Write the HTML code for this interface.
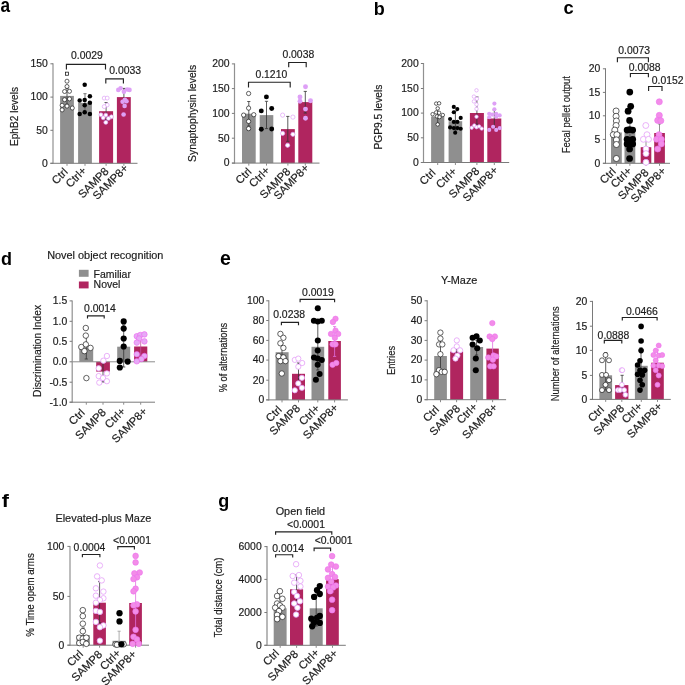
<!DOCTYPE html>
<html><head><meta charset="utf-8"><style>
html,body{margin:0;padding:0;background:#fff;}
svg{display:block;font-family:"Liberation Sans",sans-serif;will-change:transform;}
text{stroke:#1c1c1c;stroke-width:0.18px;}
</style></head><body>
<svg width="685" height="685" viewBox="0 0 685 685">
<rect width="685" height="685" fill="#fff"/>
<text x="0.6" y="11.6" font-size="19.5" font-weight="bold" fill="#000" style="stroke:none" textLength="9.6" lengthAdjust="spacingAndGlyphs">a</text>
<text x="373.7" y="14.7" font-size="18" font-weight="bold" fill="#000" style="stroke:none">b</text>
<text x="563.4" y="14.0" font-size="18.5" font-weight="bold" fill="#000" style="stroke:none" textLength="10.2" lengthAdjust="spacingAndGlyphs">c</text>
<text x="1.0" y="264.7" font-size="18" font-weight="bold" fill="#000" style="stroke:none">d</text>
<text x="220.1" y="264.9" font-size="19.5" font-weight="bold" fill="#000" style="stroke:none">e</text>
<text x="1.8" y="506.9" font-size="18.5" font-weight="bold" fill="#000" style="stroke:none" textLength="7.2" lengthAdjust="spacingAndGlyphs">f</text>
<text x="218.3" y="506.6" font-size="18" font-weight="bold" fill="#000" style="stroke:none">g</text>
<rect x="60.10" y="95.90" width="13.80" height="67.40" fill="#8f8f8f"/>
<rect x="78.10" y="102.90" width="13.80" height="60.40" fill="#8f8f8f"/>
<rect x="99.10" y="111.20" width="14.00" height="52.10" fill="#b0255f"/>
<rect x="116.90" y="97.10" width="13.90" height="66.20" fill="#b0255f"/>
<line x1="67.00" y1="88.30" x2="67.00" y2="104.30" stroke="#333" stroke-width="0.8"/>
<line x1="65.40" y1="88.30" x2="68.60" y2="88.30" stroke="#333" stroke-width="0.8"/>
<line x1="65.40" y1="104.30" x2="68.60" y2="104.30" stroke="#333" stroke-width="0.8"/>
<line x1="85.00" y1="93.70" x2="85.00" y2="112.00" stroke="#555" stroke-width="0.8"/>
<line x1="83.40" y1="93.70" x2="86.60" y2="93.70" stroke="#555" stroke-width="0.8"/>
<line x1="83.40" y1="112.00" x2="86.60" y2="112.00" stroke="#555" stroke-width="0.8"/>
<line x1="106.10" y1="102.50" x2="106.10" y2="120.00" stroke="#444" stroke-width="0.8"/>
<line x1="104.50" y1="102.50" x2="107.70" y2="102.50" stroke="#444" stroke-width="0.8"/>
<line x1="104.50" y1="120.00" x2="107.70" y2="120.00" stroke="#444" stroke-width="0.8"/>
<line x1="123.90" y1="88.40" x2="123.90" y2="105.80" stroke="#333" stroke-width="0.8"/>
<line x1="122.30" y1="88.40" x2="125.50" y2="88.40" stroke="#333" stroke-width="0.8"/>
<line x1="122.30" y1="105.80" x2="125.50" y2="105.80" stroke="#333" stroke-width="0.8"/>
<line x1="53.00" y1="63.30" x2="53.00" y2="163.80" stroke="#919191" stroke-width="1.2"/>
<line x1="50.40" y1="163.30" x2="53.00" y2="163.30" stroke="#7a7a7a" stroke-width="1.0"/>
<text x="47.8" y="166.6" font-size="10.4" text-anchor="end" font-weight="normal" fill="#1c1c1c">0</text>
<line x1="50.40" y1="130.30" x2="53.00" y2="130.30" stroke="#7a7a7a" stroke-width="1.0"/>
<text x="47.8" y="133.6" font-size="10.4" text-anchor="end" font-weight="normal" fill="#1c1c1c">50</text>
<line x1="50.40" y1="97.10" x2="53.00" y2="97.10" stroke="#7a7a7a" stroke-width="1.0"/>
<text x="47.8" y="100.4" font-size="10.4" text-anchor="end" font-weight="normal" fill="#1c1c1c">100</text>
<line x1="50.40" y1="63.80" x2="53.00" y2="63.80" stroke="#7a7a7a" stroke-width="1.0"/>
<text x="47.8" y="67.1" font-size="10.4" text-anchor="end" font-weight="normal" fill="#1c1c1c">150</text>
<line x1="50.40" y1="163.30" x2="137.50" y2="163.30" stroke="#7a7a7a" stroke-width="1.0"/>
<line x1="67.00" y1="163.30" x2="67.00" y2="165.80" stroke="#8a8a8a" stroke-width="1.0"/>
<line x1="85.00" y1="163.30" x2="85.00" y2="165.80" stroke="#8a8a8a" stroke-width="1.0"/>
<line x1="106.10" y1="163.30" x2="106.10" y2="165.80" stroke="#8a8a8a" stroke-width="1.0"/>
<line x1="123.90" y1="163.30" x2="123.90" y2="165.80" stroke="#8a8a8a" stroke-width="1.0"/>
<text x="68.5" y="172.6" font-size="11.2" text-anchor="end" fill="#1c1c1c" transform="rotate(-45 68.5 172.6)">Ctrl</text>
<text x="87.1" y="171.4" font-size="11.2" text-anchor="end" fill="#1c1c1c" transform="rotate(-45 87.1 171.4)">Ctrl+</text>
<text x="109.5" y="172.0" font-size="11.2" text-anchor="end" fill="#1c1c1c" transform="rotate(-45 109.5 172.0)">SAMP8</text>
<text x="128.8" y="168.9" font-size="11.2" text-anchor="end" fill="#1c1c1c" transform="rotate(-45 128.8 168.9)">SAMP8+</text>
<text x="18.1" y="116.5" font-size="10.3" text-anchor="middle" fill="#1c1c1c" transform="rotate(-90 18.1 116.5)" textLength="59" lengthAdjust="spacingAndGlyphs">EphB2 levels</text>
<rect x="65.45" y="72.15" width="3.1" height="3.1" fill="#fff" stroke="#111" stroke-width="0.75"/>
<circle cx="67.0" cy="81.2" r="2.03" fill="#fff" stroke="#111" stroke-width="0.65"/>
<circle cx="67.0" cy="86.5" r="2.03" fill="#fff" stroke="#111" stroke-width="0.65"/>
<circle cx="64.6" cy="91.5" r="2.03" fill="#fff" stroke="#111" stroke-width="0.65"/>
<circle cx="69.5" cy="91.3" r="2.03" fill="#fff" stroke="#111" stroke-width="0.65"/>
<circle cx="64.6" cy="99.7" r="2.03" fill="#fff" stroke="#111" stroke-width="0.65"/>
<circle cx="69.5" cy="98.9" r="2.03" fill="#fff" stroke="#111" stroke-width="0.65"/>
<circle cx="62.1" cy="105.3" r="2.03" fill="#fff" stroke="#111" stroke-width="0.65"/>
<circle cx="67.0" cy="106.1" r="2.03" fill="#fff" stroke="#111" stroke-width="0.65"/>
<circle cx="72.3" cy="108.0" r="2.03" fill="#fff" stroke="#111" stroke-width="0.65"/>
<circle cx="62.1" cy="109.9" r="2.03" fill="#fff" stroke="#111" stroke-width="0.65"/>
<circle cx="84.7" cy="84.7" r="2.24" fill="#000"/>
<circle cx="89.9" cy="96.3" r="2.24" fill="#000"/>
<circle cx="79.7" cy="100.5" r="2.24" fill="#000"/>
<circle cx="84.7" cy="100.1" r="2.24" fill="#000"/>
<circle cx="89.9" cy="102.7" r="2.24" fill="#000"/>
<circle cx="84.7" cy="105.3" r="2.24" fill="#000"/>
<circle cx="84.7" cy="112.2" r="2.24" fill="#000"/>
<circle cx="79.7" cy="114.0" r="2.24" fill="#000"/>
<circle cx="89.9" cy="114.0" r="2.24" fill="#000"/>
<circle cx="104.2" cy="98.1" r="1.95" fill="#fff" stroke="#dea0f6" stroke-width="0.7"/>
<circle cx="107.2" cy="98.1" r="1.95" fill="#fff" stroke="#dea0f6" stroke-width="0.7"/>
<circle cx="107.2" cy="105.0" r="1.95" fill="#fff" stroke="#dea0f6" stroke-width="0.7"/>
<circle cx="104.2" cy="106.6" r="1.95" fill="#fff" stroke="#dea0f6" stroke-width="0.7"/>
<circle cx="100.9" cy="114.8" r="1.95" fill="#fff" stroke="#dea0f6" stroke-width="0.7"/>
<circle cx="105.8" cy="115.1" r="1.95" fill="#fff" stroke="#dea0f6" stroke-width="0.7"/>
<circle cx="111.4" cy="116.8" r="1.95" fill="#fff" stroke="#dea0f6" stroke-width="0.7"/>
<circle cx="103.2" cy="117.8" r="1.95" fill="#fff" stroke="#dea0f6" stroke-width="0.7"/>
<circle cx="108.5" cy="118.4" r="1.95" fill="#fff" stroke="#dea0f6" stroke-width="0.7"/>
<circle cx="105.8" cy="122.4" r="1.95" fill="#fff" stroke="#dea0f6" stroke-width="0.7"/>
<circle cx="118.3" cy="89.9" r="2.30" fill="#dea0f6"/>
<circle cx="120.6" cy="88.2" r="2.30" fill="#dea0f6"/>
<circle cx="123.9" cy="91.8" r="2.30" fill="#dea0f6"/>
<circle cx="127.2" cy="89.5" r="2.30" fill="#dea0f6"/>
<circle cx="129.5" cy="89.9" r="2.30" fill="#dea0f6"/>
<circle cx="122.6" cy="101.7" r="2.30" fill="#dea0f6"/>
<circle cx="126.5" cy="101.3" r="2.30" fill="#dea0f6"/>
<circle cx="124.9" cy="99.7" r="2.30" fill="#dea0f6"/>
<circle cx="124.6" cy="105.9" r="2.30" fill="#dea0f6"/>
<circle cx="123.6" cy="114.5" r="2.30" fill="#dea0f6"/>
<polyline points="66.4,69.5 66.4,64.3 105.5,64.3 105.5,69.5" fill="none" stroke="#222" stroke-width="1.15"/>
<text x="86.9" y="59.2" font-size="10.4" text-anchor="middle" font-weight="normal" fill="#1c1c1c">0.0029</text>
<polyline points="105.8,83.5 105.8,78.9 123.4,78.9 123.4,83.5" fill="none" stroke="#222" stroke-width="1.15"/>
<text x="125.2" y="73.6" font-size="10.4" text-anchor="middle" font-weight="normal" fill="#1c1c1c">0.0033</text>
<rect x="242.00" y="113.70" width="13.70" height="49.40" fill="#8f8f8f"/>
<rect x="259.70" y="115.10" width="13.60" height="48.00" fill="#8f8f8f"/>
<rect x="281.00" y="129.10" width="13.80" height="34.00" fill="#b0255f"/>
<rect x="298.30" y="102.10" width="14.00" height="61.00" fill="#b0255f"/>
<line x1="248.80" y1="101.50" x2="248.80" y2="126.00" stroke="#333" stroke-width="0.8"/>
<line x1="247.20" y1="101.50" x2="250.40" y2="101.50" stroke="#333" stroke-width="0.8"/>
<line x1="247.20" y1="126.00" x2="250.40" y2="126.00" stroke="#333" stroke-width="0.8"/>
<line x1="266.50" y1="101.30" x2="266.50" y2="128.60" stroke="#333" stroke-width="0.8"/>
<line x1="264.90" y1="101.30" x2="268.10" y2="101.30" stroke="#333" stroke-width="0.8"/>
<line x1="264.90" y1="128.60" x2="268.10" y2="128.60" stroke="#333" stroke-width="0.8"/>
<line x1="287.80" y1="116.40" x2="287.80" y2="141.30" stroke="#333" stroke-width="0.8"/>
<line x1="286.20" y1="116.40" x2="289.40" y2="116.40" stroke="#333" stroke-width="0.8"/>
<line x1="286.20" y1="141.30" x2="289.40" y2="141.30" stroke="#333" stroke-width="0.8"/>
<line x1="305.30" y1="91.40" x2="305.30" y2="113.00" stroke="#333" stroke-width="0.8"/>
<line x1="303.70" y1="91.40" x2="306.90" y2="91.40" stroke="#333" stroke-width="0.8"/>
<line x1="303.70" y1="113.00" x2="306.90" y2="113.00" stroke="#333" stroke-width="0.8"/>
<line x1="234.50" y1="63.40" x2="234.50" y2="163.60" stroke="#919191" stroke-width="1.2"/>
<line x1="231.90" y1="163.10" x2="234.50" y2="163.10" stroke="#7a7a7a" stroke-width="1.0"/>
<text x="229.5" y="166.4" font-size="10.4" text-anchor="end" font-weight="normal" fill="#1c1c1c">0</text>
<line x1="231.90" y1="138.20" x2="234.50" y2="138.20" stroke="#7a7a7a" stroke-width="1.0"/>
<text x="229.5" y="141.5" font-size="10.4" text-anchor="end" font-weight="normal" fill="#1c1c1c">50</text>
<line x1="231.90" y1="113.40" x2="234.50" y2="113.40" stroke="#7a7a7a" stroke-width="1.0"/>
<text x="229.5" y="116.7" font-size="10.4" text-anchor="end" font-weight="normal" fill="#1c1c1c">100</text>
<line x1="231.90" y1="88.60" x2="234.50" y2="88.60" stroke="#7a7a7a" stroke-width="1.0"/>
<text x="229.5" y="91.9" font-size="10.4" text-anchor="end" font-weight="normal" fill="#1c1c1c">150</text>
<line x1="231.90" y1="63.90" x2="234.50" y2="63.90" stroke="#7a7a7a" stroke-width="1.0"/>
<text x="229.5" y="67.2" font-size="10.4" text-anchor="end" font-weight="normal" fill="#1c1c1c">200</text>
<line x1="231.90" y1="163.10" x2="319.50" y2="163.10" stroke="#7a7a7a" stroke-width="1.0"/>
<line x1="248.80" y1="163.10" x2="248.80" y2="165.60" stroke="#8a8a8a" stroke-width="1.0"/>
<line x1="266.50" y1="163.10" x2="266.50" y2="165.60" stroke="#8a8a8a" stroke-width="1.0"/>
<line x1="287.90" y1="163.10" x2="287.90" y2="165.60" stroke="#8a8a8a" stroke-width="1.0"/>
<line x1="305.30" y1="163.10" x2="305.30" y2="165.60" stroke="#8a8a8a" stroke-width="1.0"/>
<text x="252.4" y="172.4" font-size="11.2" text-anchor="end" fill="#1c1c1c" transform="rotate(-45 252.4 172.4)">Ctrl</text>
<text x="270.5" y="171.2" font-size="11.2" text-anchor="end" fill="#1c1c1c" transform="rotate(-45 270.5 171.2)">Ctrl+</text>
<text x="291.2" y="172.4" font-size="11.2" text-anchor="end" fill="#1c1c1c" transform="rotate(-45 291.2 172.4)">SAMP8</text>
<text x="309.6" y="168.7" font-size="11.2" text-anchor="end" fill="#1c1c1c" transform="rotate(-45 309.6 168.7)">SAMP8+</text>
<text x="195.6" y="113.4" font-size="10.3" text-anchor="middle" fill="#1c1c1c" transform="rotate(-90 195.6 113.4)" textLength="97" lengthAdjust="spacingAndGlyphs">Synaptophysin levels</text>
<circle cx="248.6" cy="93.5" r="2.14" fill="#fff" stroke="#111" stroke-width="0.65"/>
<circle cx="248.6" cy="108.1" r="2.14" fill="#fff" stroke="#111" stroke-width="0.65"/>
<circle cx="243.6" cy="115.1" r="2.14" fill="#fff" stroke="#111" stroke-width="0.65"/>
<circle cx="253.8" cy="114.7" r="2.14" fill="#fff" stroke="#111" stroke-width="0.65"/>
<circle cx="248.6" cy="121.4" r="2.14" fill="#fff" stroke="#111" stroke-width="0.65"/>
<circle cx="248.6" cy="128.6" r="2.14" fill="#fff" stroke="#111" stroke-width="0.65"/>
<circle cx="266.4" cy="96.9" r="2.46" fill="#000"/>
<circle cx="261.3" cy="110.9" r="2.46" fill="#000"/>
<circle cx="271.7" cy="108.5" r="2.46" fill="#000"/>
<circle cx="261.3" cy="129.2" r="2.46" fill="#000"/>
<circle cx="271.7" cy="129.0" r="2.46" fill="#000"/>
<circle cx="282.6" cy="115.1" r="2.11" fill="#fff" stroke="#dea0f6" stroke-width="0.7"/>
<circle cx="292.9" cy="117.1" r="2.11" fill="#fff" stroke="#dea0f6" stroke-width="0.7"/>
<circle cx="282.6" cy="133.4" r="2.11" fill="#fff" stroke="#dea0f6" stroke-width="0.7"/>
<circle cx="292.9" cy="134.3" r="2.11" fill="#fff" stroke="#dea0f6" stroke-width="0.7"/>
<circle cx="287.6" cy="145.3" r="2.11" fill="#fff" stroke="#dea0f6" stroke-width="0.7"/>
<circle cx="305.5" cy="86.8" r="2.46" fill="#dea0f6"/>
<circle cx="300.0" cy="96.9" r="2.46" fill="#dea0f6"/>
<circle cx="300.0" cy="101.2" r="2.46" fill="#dea0f6"/>
<circle cx="310.5" cy="100.8" r="2.46" fill="#dea0f6"/>
<circle cx="305.5" cy="109.1" r="2.46" fill="#dea0f6"/>
<circle cx="305.5" cy="118.3" r="2.46" fill="#dea0f6"/>
<polyline points="248.5,87.5 248.5,82.2 290.2,82.2 290.2,87.5" fill="none" stroke="#222" stroke-width="1.15"/>
<text x="271.3" y="77.8" font-size="10.4" text-anchor="middle" font-weight="normal" fill="#1c1c1c">0.1210</text>
<polyline points="288.7,67.3 288.7,62.5 306.2,62.5 306.2,67.3" fill="none" stroke="#222" stroke-width="1.15"/>
<text x="298.3" y="57.5" font-size="10.4" text-anchor="middle" font-weight="normal" fill="#1c1c1c">0.0038</text>
<rect x="431.10" y="116.40" width="13.20" height="46.10" fill="#8f8f8f"/>
<rect x="448.60" y="121.20" width="13.60" height="41.30" fill="#8f8f8f"/>
<rect x="469.90" y="113.00" width="14.00" height="49.50" fill="#b0255f"/>
<rect x="487.30" y="118.50" width="14.00" height="44.00" fill="#b0255f"/>
<line x1="437.70" y1="108.00" x2="437.70" y2="124.00" stroke="#333" stroke-width="0.8"/>
<line x1="436.10" y1="108.00" x2="439.30" y2="108.00" stroke="#333" stroke-width="0.8"/>
<line x1="436.10" y1="124.00" x2="439.30" y2="124.00" stroke="#333" stroke-width="0.8"/>
<line x1="455.40" y1="111.00" x2="455.40" y2="131.00" stroke="#333" stroke-width="0.8"/>
<line x1="453.80" y1="111.00" x2="457.00" y2="111.00" stroke="#333" stroke-width="0.8"/>
<line x1="453.80" y1="131.00" x2="457.00" y2="131.00" stroke="#333" stroke-width="0.8"/>
<line x1="476.90" y1="97.00" x2="476.90" y2="124.20" stroke="#333" stroke-width="0.8"/>
<line x1="475.30" y1="97.00" x2="478.50" y2="97.00" stroke="#333" stroke-width="0.8"/>
<line x1="475.30" y1="124.20" x2="478.50" y2="124.20" stroke="#333" stroke-width="0.8"/>
<line x1="494.30" y1="110.00" x2="494.30" y2="127.20" stroke="#333" stroke-width="0.8"/>
<line x1="492.70" y1="110.00" x2="495.90" y2="110.00" stroke="#333" stroke-width="0.8"/>
<line x1="492.70" y1="127.20" x2="495.90" y2="127.20" stroke="#333" stroke-width="0.8"/>
<line x1="423.50" y1="63.00" x2="423.50" y2="163.00" stroke="#919191" stroke-width="1.2"/>
<line x1="420.90" y1="162.50" x2="423.50" y2="162.50" stroke="#7a7a7a" stroke-width="1.0"/>
<text x="418.7" y="165.8" font-size="10.4" text-anchor="end" font-weight="normal" fill="#1c1c1c">0</text>
<line x1="420.90" y1="137.80" x2="423.50" y2="137.80" stroke="#7a7a7a" stroke-width="1.0"/>
<text x="418.7" y="141.1" font-size="10.4" text-anchor="end" font-weight="normal" fill="#1c1c1c">50</text>
<line x1="420.90" y1="113.10" x2="423.50" y2="113.10" stroke="#7a7a7a" stroke-width="1.0"/>
<text x="418.7" y="116.4" font-size="10.4" text-anchor="end" font-weight="normal" fill="#1c1c1c">100</text>
<line x1="420.90" y1="88.50" x2="423.50" y2="88.50" stroke="#7a7a7a" stroke-width="1.0"/>
<text x="418.7" y="91.8" font-size="10.4" text-anchor="end" font-weight="normal" fill="#1c1c1c">150</text>
<line x1="420.90" y1="63.50" x2="423.50" y2="63.50" stroke="#7a7a7a" stroke-width="1.0"/>
<text x="418.7" y="66.8" font-size="10.4" text-anchor="end" font-weight="normal" fill="#1c1c1c">200</text>
<line x1="420.90" y1="162.50" x2="509.20" y2="162.50" stroke="#7a7a7a" stroke-width="1.0"/>
<line x1="437.70" y1="162.50" x2="437.70" y2="165.00" stroke="#8a8a8a" stroke-width="1.0"/>
<line x1="455.40" y1="162.50" x2="455.40" y2="165.00" stroke="#8a8a8a" stroke-width="1.0"/>
<line x1="476.90" y1="162.50" x2="476.90" y2="165.00" stroke="#8a8a8a" stroke-width="1.0"/>
<line x1="494.30" y1="162.50" x2="494.30" y2="165.00" stroke="#8a8a8a" stroke-width="1.0"/>
<text x="436.4" y="173.4" font-size="11.2" text-anchor="end" fill="#1c1c1c" transform="rotate(-45 436.4 173.4)">Ctrl</text>
<text x="457.5" y="172.1" font-size="11.2" text-anchor="end" fill="#1c1c1c" transform="rotate(-45 457.5 172.1)">Ctrl+</text>
<text x="480.2" y="171.8" font-size="11.2" text-anchor="end" fill="#1c1c1c" transform="rotate(-45 480.2 171.8)">SAMP8</text>
<text x="498.6" y="170.9" font-size="11.2" text-anchor="end" fill="#1c1c1c" transform="rotate(-45 498.6 170.9)">SAMP8+</text>
<text x="382.5" y="117.1" font-size="10.3" text-anchor="middle" fill="#1c1c1c" transform="rotate(-90 382.5 117.1)" textLength="65" lengthAdjust="spacingAndGlyphs">PGP9.5 levels</text>
<circle cx="436.2" cy="103.6" r="1.75" fill="#fff" stroke="#111" stroke-width="0.65"/>
<circle cx="439.1" cy="103.3" r="1.75" fill="#fff" stroke="#111" stroke-width="0.65"/>
<circle cx="437.7" cy="108.4" r="1.75" fill="#fff" stroke="#111" stroke-width="0.65"/>
<circle cx="436.2" cy="112.4" r="1.75" fill="#fff" stroke="#111" stroke-width="0.65"/>
<circle cx="439.1" cy="112.8" r="1.75" fill="#fff" stroke="#111" stroke-width="0.65"/>
<circle cx="432.6" cy="114.2" r="1.75" fill="#fff" stroke="#111" stroke-width="0.65"/>
<circle cx="442.8" cy="115.0" r="1.75" fill="#fff" stroke="#111" stroke-width="0.65"/>
<circle cx="437.0" cy="116.4" r="1.75" fill="#fff" stroke="#111" stroke-width="0.65"/>
<circle cx="439.5" cy="117.1" r="1.75" fill="#fff" stroke="#111" stroke-width="0.65"/>
<circle cx="437.7" cy="124.4" r="1.75" fill="#fff" stroke="#111" stroke-width="0.65"/>
<circle cx="453.8" cy="106.9" r="2.07" fill="#000"/>
<circle cx="457.3" cy="109.1" r="2.07" fill="#000"/>
<circle cx="453.8" cy="112.2" r="2.07" fill="#000"/>
<circle cx="450.1" cy="119.0" r="2.07" fill="#000"/>
<circle cx="460.7" cy="117.9" r="2.07" fill="#000"/>
<circle cx="453.8" cy="121.9" r="2.07" fill="#000"/>
<circle cx="457.4" cy="121.9" r="2.07" fill="#000"/>
<circle cx="450.1" cy="127.4" r="2.07" fill="#000"/>
<circle cx="453.8" cy="128.1" r="2.07" fill="#000"/>
<circle cx="457.4" cy="128.1" r="2.07" fill="#000"/>
<circle cx="460.7" cy="128.8" r="2.07" fill="#000"/>
<circle cx="455.2" cy="132.8" r="2.07" fill="#000"/>
<circle cx="476.5" cy="90.3" r="1.72" fill="#fff" stroke="#dea0f6" stroke-width="0.7"/>
<circle cx="473.9" cy="96.6" r="1.72" fill="#fff" stroke="#dea0f6" stroke-width="0.7"/>
<circle cx="476.9" cy="98.8" r="1.72" fill="#fff" stroke="#dea0f6" stroke-width="0.7"/>
<circle cx="473.9" cy="101.4" r="1.72" fill="#fff" stroke="#dea0f6" stroke-width="0.7"/>
<circle cx="476.5" cy="104.5" r="1.72" fill="#fff" stroke="#dea0f6" stroke-width="0.7"/>
<circle cx="476.5" cy="108.9" r="1.72" fill="#fff" stroke="#dea0f6" stroke-width="0.7"/>
<circle cx="476.5" cy="116.7" r="1.72" fill="#fff" stroke="#dea0f6" stroke-width="0.7"/>
<circle cx="471.7" cy="127.7" r="1.72" fill="#fff" stroke="#dea0f6" stroke-width="0.7"/>
<circle cx="474.3" cy="125.5" r="1.72" fill="#fff" stroke="#dea0f6" stroke-width="0.7"/>
<circle cx="476.5" cy="127.2" r="1.72" fill="#fff" stroke="#dea0f6" stroke-width="0.7"/>
<circle cx="479.1" cy="126.4" r="1.72" fill="#fff" stroke="#dea0f6" stroke-width="0.7"/>
<circle cx="481.7" cy="128.6" r="1.72" fill="#fff" stroke="#dea0f6" stroke-width="0.7"/>
<circle cx="494.4" cy="103.6" r="2.07" fill="#dea0f6"/>
<circle cx="494.4" cy="109.3" r="2.07" fill="#dea0f6"/>
<circle cx="489.2" cy="113.7" r="2.07" fill="#dea0f6"/>
<circle cx="492.2" cy="114.6" r="2.07" fill="#dea0f6"/>
<circle cx="496.2" cy="113.7" r="2.07" fill="#dea0f6"/>
<circle cx="499.7" cy="115.4" r="2.07" fill="#dea0f6"/>
<circle cx="489.2" cy="117.2" r="2.07" fill="#dea0f6"/>
<circle cx="496.2" cy="116.7" r="2.07" fill="#dea0f6"/>
<circle cx="493.1" cy="126.8" r="2.07" fill="#dea0f6"/>
<circle cx="489.2" cy="129.9" r="2.07" fill="#dea0f6"/>
<circle cx="496.2" cy="129.9" r="2.07" fill="#dea0f6"/>
<circle cx="499.7" cy="128.1" r="2.07" fill="#dea0f6"/>
<rect x="611.00" y="132.50" width="10.80" height="30.80" fill="#8f8f8f"/>
<rect x="624.50" y="132.70" width="10.80" height="30.60" fill="#8f8f8f"/>
<rect x="640.70" y="147.20" width="10.60" height="16.10" fill="#b0255f"/>
<rect x="654.20" y="133.00" width="10.70" height="30.30" fill="#b0255f"/>
<line x1="616.40" y1="122.00" x2="616.40" y2="143.00" stroke="#777" stroke-width="0.8"/>
<line x1="614.80" y1="122.00" x2="618.00" y2="122.00" stroke="#777" stroke-width="0.8"/>
<line x1="614.80" y1="143.00" x2="618.00" y2="143.00" stroke="#777" stroke-width="0.8"/>
<line x1="629.90" y1="120.00" x2="629.90" y2="145.00" stroke="#555" stroke-width="0.8"/>
<line x1="628.30" y1="120.00" x2="631.50" y2="120.00" stroke="#555" stroke-width="0.8"/>
<line x1="628.30" y1="145.00" x2="631.50" y2="145.00" stroke="#555" stroke-width="0.8"/>
<line x1="646.00" y1="140.00" x2="646.00" y2="155.00" stroke="#777" stroke-width="0.8"/>
<line x1="644.40" y1="140.00" x2="647.60" y2="140.00" stroke="#777" stroke-width="0.8"/>
<line x1="644.40" y1="155.00" x2="647.60" y2="155.00" stroke="#777" stroke-width="0.8"/>
<line x1="659.50" y1="124.00" x2="659.50" y2="142.00" stroke="#777" stroke-width="0.8"/>
<line x1="657.90" y1="124.00" x2="661.10" y2="124.00" stroke="#777" stroke-width="0.8"/>
<line x1="657.90" y1="142.00" x2="661.10" y2="142.00" stroke="#777" stroke-width="0.8"/>
<line x1="605.50" y1="68.30" x2="605.50" y2="163.80" stroke="#7a7a7a" stroke-width="1.0"/>
<line x1="602.90" y1="163.30" x2="605.50" y2="163.30" stroke="#7a7a7a" stroke-width="1.0"/>
<text x="600.3" y="166.6" font-size="10.4" text-anchor="end" font-weight="normal" fill="#1c1c1c">0</text>
<line x1="602.90" y1="139.40" x2="605.50" y2="139.40" stroke="#7a7a7a" stroke-width="1.0"/>
<text x="600.3" y="142.7" font-size="10.4" text-anchor="end" font-weight="normal" fill="#1c1c1c">5</text>
<line x1="602.90" y1="115.80" x2="605.50" y2="115.80" stroke="#7a7a7a" stroke-width="1.0"/>
<text x="600.3" y="119.1" font-size="10.4" text-anchor="end" font-weight="normal" fill="#1c1c1c">10</text>
<line x1="602.90" y1="92.40" x2="605.50" y2="92.40" stroke="#7a7a7a" stroke-width="1.0"/>
<text x="600.3" y="95.7" font-size="10.4" text-anchor="end" font-weight="normal" fill="#1c1c1c">15</text>
<line x1="602.90" y1="68.80" x2="605.50" y2="68.80" stroke="#7a7a7a" stroke-width="1.0"/>
<text x="600.3" y="72.1" font-size="10.4" text-anchor="end" font-weight="normal" fill="#1c1c1c">20</text>
<line x1="602.90" y1="163.30" x2="670.00" y2="163.30" stroke="#7a7a7a" stroke-width="1.0"/>
<line x1="616.40" y1="163.30" x2="616.40" y2="165.80" stroke="#8a8a8a" stroke-width="1.0"/>
<line x1="629.90" y1="163.30" x2="629.90" y2="165.80" stroke="#8a8a8a" stroke-width="1.0"/>
<line x1="646.00" y1="163.30" x2="646.00" y2="165.80" stroke="#8a8a8a" stroke-width="1.0"/>
<line x1="659.50" y1="163.30" x2="659.50" y2="165.80" stroke="#8a8a8a" stroke-width="1.0"/>
<text x="616.6" y="172.3" font-size="11.2" text-anchor="end" fill="#1c1c1c" transform="rotate(-45 616.6 172.3)">Ctrl</text>
<text x="632.3" y="171.7" font-size="11.2" text-anchor="end" fill="#1c1c1c" transform="rotate(-45 632.3 171.7)">Ctrl+</text>
<text x="649.3" y="173.3" font-size="11.2" text-anchor="end" fill="#1c1c1c" transform="rotate(-45 649.3 173.3)">SAMP8</text>
<text x="666.6" y="171.7" font-size="11.2" text-anchor="end" fill="#1c1c1c" transform="rotate(-45 666.6 171.7)">SAMP8+</text>
<text x="570.0" y="114.65" font-size="10.3" text-anchor="middle" fill="#1c1c1c" transform="rotate(-90 570.0 114.65)" textLength="77" lengthAdjust="spacingAndGlyphs">Fecal pellet output</text>
<circle cx="616.1" cy="111.0" r="3.04" fill="#fff" stroke="#111" stroke-width="0.65"/>
<circle cx="616.1" cy="116.3" r="3.04" fill="#fff" stroke="#111" stroke-width="0.65"/>
<circle cx="616.4" cy="121.0" r="3.04" fill="#fff" stroke="#111" stroke-width="0.65"/>
<circle cx="616.1" cy="125.5" r="3.04" fill="#fff" stroke="#111" stroke-width="0.65"/>
<circle cx="614.8" cy="130.1" r="3.04" fill="#fff" stroke="#111" stroke-width="0.65"/>
<circle cx="613.3" cy="134.7" r="3.04" fill="#fff" stroke="#111" stroke-width="0.65"/>
<circle cx="616.9" cy="134.7" r="3.04" fill="#fff" stroke="#111" stroke-width="0.65"/>
<circle cx="616.4" cy="139.9" r="3.04" fill="#fff" stroke="#111" stroke-width="0.65"/>
<circle cx="616.4" cy="144.5" r="3.04" fill="#fff" stroke="#111" stroke-width="0.65"/>
<circle cx="616.4" cy="158.5" r="3.04" fill="#fff" stroke="#111" stroke-width="0.65"/>
<circle cx="629.8" cy="92.1" r="3.36" fill="#000"/>
<circle cx="630.7" cy="106.3" r="3.36" fill="#000"/>
<circle cx="628.1" cy="111.2" r="3.36" fill="#000"/>
<circle cx="629.6" cy="120.4" r="3.36" fill="#000"/>
<circle cx="627.1" cy="130.1" r="3.36" fill="#000"/>
<circle cx="629.6" cy="129.6" r="3.36" fill="#000"/>
<circle cx="632.7" cy="130.1" r="3.36" fill="#000"/>
<circle cx="627.1" cy="139.3" r="3.36" fill="#000"/>
<circle cx="632.7" cy="139.3" r="3.36" fill="#000"/>
<circle cx="629.6" cy="140.9" r="3.36" fill="#000"/>
<circle cx="627.1" cy="143.9" r="3.36" fill="#000"/>
<circle cx="632.7" cy="143.9" r="3.36" fill="#000"/>
<circle cx="629.6" cy="149.0" r="3.36" fill="#000"/>
<circle cx="629.6" cy="158.5" r="3.36" fill="#000"/>
<circle cx="645.8" cy="125.5" r="2.96" fill="#fff" stroke="#e4a0f8" stroke-width="0.8"/>
<circle cx="647.0" cy="134.7" r="2.96" fill="#fff" stroke="#e4a0f8" stroke-width="0.8"/>
<circle cx="643.4" cy="139.3" r="2.96" fill="#fff" stroke="#e4a0f8" stroke-width="0.8"/>
<circle cx="648.5" cy="139.3" r="2.96" fill="#fff" stroke="#e4a0f8" stroke-width="0.8"/>
<circle cx="646.0" cy="149.0" r="2.96" fill="#fff" stroke="#e4a0f8" stroke-width="0.8"/>
<circle cx="646.0" cy="153.6" r="2.96" fill="#fff" stroke="#e4a0f8" stroke-width="0.8"/>
<circle cx="646.0" cy="162.3" r="2.96" fill="#fff" stroke="#e4a0f8" stroke-width="0.8"/>
<circle cx="659.3" cy="101.8" r="3.06" fill="#f28de8" stroke="#ef6ff0" stroke-width="0.6"/>
<circle cx="659.3" cy="115.4" r="3.06" fill="#f28de8" stroke="#ef6ff0" stroke-width="0.6"/>
<circle cx="657.7" cy="120.4" r="3.06" fill="#f28de8" stroke="#ef6ff0" stroke-width="0.6"/>
<circle cx="660.8" cy="120.7" r="3.06" fill="#f28de8" stroke="#ef6ff0" stroke-width="0.6"/>
<circle cx="659.0" cy="134.7" r="3.06" fill="#f28de8" stroke="#ef6ff0" stroke-width="0.6"/>
<circle cx="656.7" cy="139.3" r="3.06" fill="#f28de8" stroke="#ef6ff0" stroke-width="0.6"/>
<circle cx="661.3" cy="139.3" r="3.06" fill="#f28de8" stroke="#ef6ff0" stroke-width="0.6"/>
<circle cx="661.3" cy="143.9" r="3.06" fill="#f28de8" stroke="#ef6ff0" stroke-width="0.6"/>
<circle cx="657.7" cy="149.0" r="3.06" fill="#f28de8" stroke="#ef6ff0" stroke-width="0.6"/>
<polyline points="617.4,62.3 617.4,57.7 648.4,57.7 648.4,62.3" fill="none" stroke="#222" stroke-width="1.15"/>
<text x="634.2" y="54.3" font-size="10.4" text-anchor="middle" font-weight="normal" fill="#1c1c1c">0.0073</text>
<polyline points="630.4,77.2 630.4,73.5 648.4,73.5 648.4,77.2" fill="none" stroke="#222" stroke-width="1.15"/>
<text x="644.7" y="71.3" font-size="10.4" text-anchor="middle" font-weight="normal" fill="#1c1c1c">0.0088</text>
<polyline points="648.6,90.9 648.6,86.5 662.0,86.5 662.0,90.9" fill="none" stroke="#222" stroke-width="1.15"/>
<text x="667.7" y="84.0" font-size="10.4" text-anchor="middle" font-weight="normal" fill="#1c1c1c">0.0152</text>
<text x="47.2" y="259.1" font-size="10.9" text-anchor="start" font-weight="normal" fill="#1c1c1c">Novel object recognition</text>
<rect x="78.90" y="269.80" width="9.70" height="7.00" fill="#8f8f8f"/>
<text x="93.6" y="278.0" font-size="10.5" text-anchor="start" font-weight="normal" fill="#1c1c1c">Familiar</text>
<rect x="78.90" y="281.50" width="9.70" height="6.90" fill="#b0255f"/>
<text x="93.6" y="287.7" font-size="10.5" text-anchor="start" font-weight="normal" fill="#1c1c1c">Novel</text>
<rect x="79.30" y="347.50" width="13.90" height="14.30" fill="#8f8f8f"/>
<rect x="96.20" y="361.80" width="13.70" height="9.80" fill="#b0255f"/>
<rect x="117.20" y="346.70" width="13.00" height="15.10" fill="#8f8f8f"/>
<rect x="134.10" y="346.50" width="13.20" height="15.30" fill="#b0255f"/>
<line x1="72.20" y1="361.80" x2="155.00" y2="361.80" stroke="#8c8c8c" stroke-width="1.0"/>
<line x1="86.30" y1="336.00" x2="86.30" y2="359.00" stroke="#333" stroke-width="0.8"/>
<line x1="84.70" y1="336.00" x2="87.90" y2="336.00" stroke="#333" stroke-width="0.8"/>
<line x1="84.70" y1="359.00" x2="87.90" y2="359.00" stroke="#333" stroke-width="0.8"/>
<line x1="103.00" y1="362.00" x2="103.00" y2="382.00" stroke="#333" stroke-width="0.8"/>
<line x1="101.40" y1="362.00" x2="104.60" y2="362.00" stroke="#333" stroke-width="0.8"/>
<line x1="101.40" y1="382.00" x2="104.60" y2="382.00" stroke="#333" stroke-width="0.8"/>
<line x1="123.70" y1="325.00" x2="123.70" y2="367.00" stroke="#333" stroke-width="0.8"/>
<line x1="122.10" y1="325.00" x2="125.30" y2="325.00" stroke="#333" stroke-width="0.8"/>
<line x1="122.10" y1="367.00" x2="125.30" y2="367.00" stroke="#333" stroke-width="0.8"/>
<line x1="140.70" y1="337.00" x2="140.70" y2="356.00" stroke="#c050a0" stroke-width="0.8"/>
<line x1="139.10" y1="337.00" x2="142.30" y2="337.00" stroke="#c050a0" stroke-width="0.8"/>
<line x1="139.10" y1="356.00" x2="142.30" y2="356.00" stroke="#c050a0" stroke-width="0.8"/>
<line x1="72.20" y1="300.40" x2="72.20" y2="402.70" stroke="#919191" stroke-width="1.2"/>
<line x1="69.60" y1="402.20" x2="72.20" y2="402.20" stroke="#7a7a7a" stroke-width="1.0"/>
<text x="67.3" y="405.5" font-size="10.4" text-anchor="end" font-weight="normal" fill="#1c1c1c">-1.0</text>
<line x1="69.60" y1="382.20" x2="72.20" y2="382.20" stroke="#7a7a7a" stroke-width="1.0"/>
<text x="67.3" y="385.5" font-size="10.4" text-anchor="end" font-weight="normal" fill="#1c1c1c">-0.5</text>
<line x1="69.60" y1="361.80" x2="72.20" y2="361.80" stroke="#7a7a7a" stroke-width="1.0"/>
<text x="67.3" y="365.1" font-size="10.4" text-anchor="end" font-weight="normal" fill="#1c1c1c">0.0</text>
<line x1="69.60" y1="341.30" x2="72.20" y2="341.30" stroke="#7a7a7a" stroke-width="1.0"/>
<text x="67.3" y="344.6" font-size="10.4" text-anchor="end" font-weight="normal" fill="#1c1c1c">0.5</text>
<line x1="69.60" y1="321.30" x2="72.20" y2="321.30" stroke="#7a7a7a" stroke-width="1.0"/>
<text x="67.3" y="324.6" font-size="10.4" text-anchor="end" font-weight="normal" fill="#1c1c1c">1.0</text>
<line x1="69.60" y1="300.90" x2="72.20" y2="300.90" stroke="#7a7a7a" stroke-width="1.0"/>
<text x="67.3" y="304.2" font-size="10.4" text-anchor="end" font-weight="normal" fill="#1c1c1c">1.5</text>
<line x1="69.60" y1="402.20" x2="155.00" y2="402.20" stroke="#7a7a7a" stroke-width="1.0"/>
<line x1="86.30" y1="402.20" x2="86.30" y2="404.70" stroke="#8a8a8a" stroke-width="1.0"/>
<line x1="103.00" y1="402.20" x2="103.00" y2="404.70" stroke="#8a8a8a" stroke-width="1.0"/>
<line x1="123.70" y1="402.20" x2="123.70" y2="404.70" stroke="#8a8a8a" stroke-width="1.0"/>
<line x1="140.70" y1="402.20" x2="140.70" y2="404.70" stroke="#8a8a8a" stroke-width="1.0"/>
<text x="85.6" y="413.5" font-size="11.2" text-anchor="end" fill="#1c1c1c" transform="rotate(-45 85.6 413.5)">Ctrl</text>
<text x="106.7" y="413.1" font-size="11.2" text-anchor="end" fill="#1c1c1c" transform="rotate(-45 106.7 413.1)">SAMP8</text>
<text x="126.2" y="412.1" font-size="11.2" text-anchor="end" fill="#1c1c1c" transform="rotate(-45 126.2 412.1)">Ctrl+</text>
<text x="147.8" y="412.1" font-size="11.2" text-anchor="end" fill="#1c1c1c" transform="rotate(-45 147.8 412.1)">SAMP8+</text>
<text x="40.9" y="351.0" font-size="10.3" text-anchor="middle" fill="#1c1c1c" transform="rotate(-90 40.9 351.0)" textLength="92" lengthAdjust="spacingAndGlyphs">Discrimination Index</text>
<circle cx="85.8" cy="328.0" r="2.75" fill="#fff" stroke="#111" stroke-width="0.65"/>
<circle cx="85.8" cy="335.6" r="2.75" fill="#fff" stroke="#111" stroke-width="0.65"/>
<circle cx="85.8" cy="344.4" r="2.75" fill="#fff" stroke="#111" stroke-width="0.65"/>
<circle cx="81.3" cy="347.0" r="2.75" fill="#fff" stroke="#111" stroke-width="0.65"/>
<circle cx="90.5" cy="347.9" r="2.75" fill="#fff" stroke="#111" stroke-width="0.65"/>
<circle cx="84.4" cy="351.1" r="2.75" fill="#fff" stroke="#111" stroke-width="0.65"/>
<circle cx="86.4" cy="378.1" r="2.75" fill="#fff" stroke="#111" stroke-width="0.65"/>
<circle cx="106.9" cy="356.0" r="2.68" fill="#fff" stroke="#e4a0f8" stroke-width="0.8"/>
<circle cx="103.4" cy="360.7" r="2.68" fill="#fff" stroke="#e4a0f8" stroke-width="0.8"/>
<circle cx="98.7" cy="368.3" r="2.68" fill="#fff" stroke="#e4a0f8" stroke-width="0.8"/>
<circle cx="106.9" cy="373.4" r="2.68" fill="#fff" stroke="#e4a0f8" stroke-width="0.8"/>
<circle cx="98.7" cy="376.1" r="2.68" fill="#fff" stroke="#e4a0f8" stroke-width="0.8"/>
<circle cx="103.0" cy="378.0" r="2.68" fill="#fff" stroke="#e4a0f8" stroke-width="0.8"/>
<circle cx="106.9" cy="381.2" r="2.68" fill="#fff" stroke="#e4a0f8" stroke-width="0.8"/>
<circle cx="99.3" cy="382.6" r="2.68" fill="#fff" stroke="#e4a0f8" stroke-width="0.8"/>
<circle cx="123.7" cy="321.4" r="3.08" fill="#000"/>
<circle cx="123.7" cy="328.6" r="3.08" fill="#000"/>
<circle cx="123.7" cy="338.5" r="3.08" fill="#000"/>
<circle cx="123.7" cy="346.5" r="3.08" fill="#000"/>
<circle cx="119.8" cy="360.9" r="3.08" fill="#000"/>
<circle cx="127.7" cy="361.6" r="3.08" fill="#000"/>
<circle cx="119.8" cy="367.5" r="3.08" fill="#000"/>
<circle cx="136.8" cy="336.2" r="2.78" fill="#e6aaf6" stroke="#f063f0" stroke-width="0.6"/>
<circle cx="140.3" cy="335.0" r="2.78" fill="#e6aaf6" stroke="#f063f0" stroke-width="0.6"/>
<circle cx="144.4" cy="334.4" r="2.78" fill="#e6aaf6" stroke="#f063f0" stroke-width="0.6"/>
<circle cx="139.1" cy="338.5" r="2.78" fill="#e6aaf6" stroke="#f063f0" stroke-width="0.6"/>
<circle cx="136.8" cy="342.6" r="2.78" fill="#e6aaf6" stroke="#f063f0" stroke-width="0.6"/>
<circle cx="144.4" cy="341.4" r="2.78" fill="#e6aaf6" stroke="#f063f0" stroke-width="0.6"/>
<circle cx="136.8" cy="354.3" r="2.78" fill="#e6aaf6" stroke="#f063f0" stroke-width="0.6"/>
<circle cx="144.4" cy="356.0" r="2.78" fill="#e6aaf6" stroke="#f063f0" stroke-width="0.6"/>
<circle cx="141.4" cy="359.0" r="2.78" fill="#e6aaf6" stroke="#f063f0" stroke-width="0.6"/>
<circle cx="136.8" cy="361.3" r="2.78" fill="#e6aaf6" stroke="#f063f0" stroke-width="0.6"/>
<polyline points="87.5,318.6 87.5,315.8 104.2,315.8 104.2,318.6" fill="none" stroke="#222" stroke-width="1.15"/>
<text x="100.0" y="311.7" font-size="10.4" text-anchor="middle" font-weight="normal" fill="#1c1c1c">0.0014</text>
<rect x="275.60" y="352.20" width="13.00" height="47.70" fill="#8f8f8f"/>
<rect x="292.00" y="373.80" width="13.00" height="26.10" fill="#b0255f"/>
<rect x="311.50" y="346.80" width="12.70" height="53.10" fill="#8f8f8f"/>
<rect x="328.30" y="341.00" width="12.60" height="58.90" fill="#b0255f"/>
<line x1="282.00" y1="343.00" x2="282.00" y2="361.00" stroke="#333" stroke-width="0.8"/>
<line x1="280.40" y1="343.00" x2="283.60" y2="343.00" stroke="#333" stroke-width="0.8"/>
<line x1="280.40" y1="361.00" x2="283.60" y2="361.00" stroke="#333" stroke-width="0.8"/>
<line x1="298.50" y1="363.00" x2="298.50" y2="384.00" stroke="#333" stroke-width="0.8"/>
<line x1="296.90" y1="363.00" x2="300.10" y2="363.00" stroke="#333" stroke-width="0.8"/>
<line x1="296.90" y1="384.00" x2="300.10" y2="384.00" stroke="#333" stroke-width="0.8"/>
<line x1="317.80" y1="323.40" x2="317.80" y2="370.00" stroke="#333" stroke-width="0.8"/>
<line x1="316.20" y1="323.40" x2="319.40" y2="323.40" stroke="#333" stroke-width="0.8"/>
<line x1="316.20" y1="370.00" x2="319.40" y2="370.00" stroke="#333" stroke-width="0.8"/>
<line x1="334.60" y1="326.60" x2="334.60" y2="356.40" stroke="#e070e0" stroke-width="0.8"/>
<line x1="333.00" y1="326.60" x2="336.20" y2="326.60" stroke="#e070e0" stroke-width="0.8"/>
<line x1="333.00" y1="356.40" x2="336.20" y2="356.40" stroke="#e070e0" stroke-width="0.8"/>
<line x1="268.80" y1="300.30" x2="268.80" y2="400.40" stroke="#919191" stroke-width="1.2"/>
<line x1="266.20" y1="399.90" x2="268.80" y2="399.90" stroke="#7a7a7a" stroke-width="1.0"/>
<text x="264.4" y="403.2" font-size="10.4" text-anchor="end" font-weight="normal" fill="#1c1c1c">0</text>
<line x1="266.20" y1="380.20" x2="268.80" y2="380.20" stroke="#7a7a7a" stroke-width="1.0"/>
<text x="264.4" y="383.5" font-size="10.4" text-anchor="end" font-weight="normal" fill="#1c1c1c">20</text>
<line x1="266.20" y1="360.10" x2="268.80" y2="360.10" stroke="#7a7a7a" stroke-width="1.0"/>
<text x="264.4" y="363.4" font-size="10.4" text-anchor="end" font-weight="normal" fill="#1c1c1c">40</text>
<line x1="266.20" y1="340.40" x2="268.80" y2="340.40" stroke="#7a7a7a" stroke-width="1.0"/>
<text x="264.4" y="343.7" font-size="10.4" text-anchor="end" font-weight="normal" fill="#1c1c1c">60</text>
<line x1="266.20" y1="320.50" x2="268.80" y2="320.50" stroke="#7a7a7a" stroke-width="1.0"/>
<text x="264.4" y="323.8" font-size="10.4" text-anchor="end" font-weight="normal" fill="#1c1c1c">80</text>
<line x1="266.20" y1="300.80" x2="268.80" y2="300.80" stroke="#7a7a7a" stroke-width="1.0"/>
<text x="264.4" y="304.1" font-size="10.4" text-anchor="end" font-weight="normal" fill="#1c1c1c">100</text>
<line x1="266.20" y1="399.90" x2="347.90" y2="399.90" stroke="#7a7a7a" stroke-width="1.0"/>
<line x1="282.00" y1="399.90" x2="282.00" y2="402.40" stroke="#8a8a8a" stroke-width="1.0"/>
<line x1="298.50" y1="399.90" x2="298.50" y2="402.40" stroke="#8a8a8a" stroke-width="1.0"/>
<line x1="317.80" y1="399.90" x2="317.80" y2="402.40" stroke="#8a8a8a" stroke-width="1.0"/>
<line x1="334.60" y1="399.90" x2="334.60" y2="402.40" stroke="#8a8a8a" stroke-width="1.0"/>
<text x="282.6" y="410.5" font-size="11.2" text-anchor="end" fill="#1c1c1c" transform="rotate(-45 282.6 410.5)">Ctrl</text>
<text x="300.9" y="409.0" font-size="11.2" text-anchor="end" fill="#1c1c1c" transform="rotate(-45 300.9 409.0)">SAMP8</text>
<text x="320.5" y="409.2" font-size="11.2" text-anchor="end" fill="#1c1c1c" transform="rotate(-45 320.5 409.2)">Ctrl+</text>
<text x="338.9" y="408.3" font-size="11.2" text-anchor="end" fill="#1c1c1c" transform="rotate(-45 338.9 408.3)">SAMP8+</text>
<text x="226.6" y="357.5" font-size="10.3" text-anchor="middle" fill="#1c1c1c" transform="rotate(-90 226.6 357.5)" textLength="69.6" lengthAdjust="spacingAndGlyphs">% of alternations</text>
<circle cx="280.4" cy="333.9" r="2.70" fill="#fff" stroke="#111" stroke-width="0.65"/>
<circle cx="283.4" cy="337.8" r="2.70" fill="#fff" stroke="#111" stroke-width="0.65"/>
<circle cx="280.4" cy="343.3" r="2.70" fill="#fff" stroke="#111" stroke-width="0.65"/>
<circle cx="283.4" cy="347.9" r="2.70" fill="#fff" stroke="#111" stroke-width="0.65"/>
<circle cx="278.6" cy="356.1" r="2.70" fill="#fff" stroke="#111" stroke-width="0.65"/>
<circle cx="283.4" cy="357.4" r="2.70" fill="#fff" stroke="#111" stroke-width="0.65"/>
<circle cx="280.5" cy="361.1" r="2.70" fill="#fff" stroke="#111" stroke-width="0.65"/>
<circle cx="285.5" cy="361.1" r="2.70" fill="#fff" stroke="#111" stroke-width="0.65"/>
<circle cx="281.8" cy="373.5" r="2.70" fill="#fff" stroke="#111" stroke-width="0.65"/>
<circle cx="294.8" cy="359.9" r="2.62" fill="#fff" stroke="#e4a0f8" stroke-width="0.8"/>
<circle cx="298.3" cy="358.6" r="2.62" fill="#fff" stroke="#e4a0f8" stroke-width="0.8"/>
<circle cx="302.2" cy="363.0" r="2.62" fill="#fff" stroke="#e4a0f8" stroke-width="0.8"/>
<circle cx="298.3" cy="366.7" r="2.62" fill="#fff" stroke="#e4a0f8" stroke-width="0.8"/>
<circle cx="301.9" cy="377.8" r="2.62" fill="#fff" stroke="#e4a0f8" stroke-width="0.8"/>
<circle cx="298.3" cy="383.4" r="2.62" fill="#fff" stroke="#e4a0f8" stroke-width="0.8"/>
<circle cx="301.9" cy="387.8" r="2.62" fill="#fff" stroke="#e4a0f8" stroke-width="0.8"/>
<circle cx="294.8" cy="390.3" r="2.62" fill="#fff" stroke="#e4a0f8" stroke-width="0.8"/>
<circle cx="317.8" cy="308.2" r="3.02" fill="#000"/>
<circle cx="313.9" cy="320.7" r="3.02" fill="#000"/>
<circle cx="317.8" cy="321.4" r="3.02" fill="#000"/>
<circle cx="321.8" cy="320.7" r="3.02" fill="#000"/>
<circle cx="317.8" cy="340.4" r="3.02" fill="#000"/>
<circle cx="317.7" cy="350.5" r="3.02" fill="#000"/>
<circle cx="314.0" cy="357.4" r="3.02" fill="#000"/>
<circle cx="317.7" cy="358.6" r="3.02" fill="#000"/>
<circle cx="321.8" cy="360.1" r="3.02" fill="#000"/>
<circle cx="317.7" cy="364.8" r="3.02" fill="#000"/>
<circle cx="319.6" cy="374.1" r="3.02" fill="#000"/>
<circle cx="315.9" cy="379.7" r="3.02" fill="#000"/>
<circle cx="335.5" cy="318.8" r="2.72" fill="#f28de8" stroke="#ef6ff0" stroke-width="0.6"/>
<circle cx="332.9" cy="322.0" r="2.72" fill="#f28de8" stroke="#ef6ff0" stroke-width="0.6"/>
<circle cx="335.5" cy="330.6" r="2.72" fill="#f28de8" stroke="#ef6ff0" stroke-width="0.6"/>
<circle cx="331.0" cy="333.9" r="2.72" fill="#f28de8" stroke="#ef6ff0" stroke-width="0.6"/>
<circle cx="338.2" cy="333.9" r="2.72" fill="#f28de8" stroke="#ef6ff0" stroke-width="0.6"/>
<circle cx="334.9" cy="337.8" r="2.72" fill="#f28de8" stroke="#ef6ff0" stroke-width="0.6"/>
<circle cx="334.2" cy="344.4" r="2.72" fill="#f28de8" stroke="#ef6ff0" stroke-width="0.6"/>
<circle cx="332.6" cy="344.3" r="2.72" fill="#f28de8" stroke="#ef6ff0" stroke-width="0.6"/>
<circle cx="335.5" cy="344.3" r="2.72" fill="#f28de8" stroke="#ef6ff0" stroke-width="0.6"/>
<circle cx="332.6" cy="364.8" r="2.72" fill="#f28de8" stroke="#ef6ff0" stroke-width="0.6"/>
<circle cx="336.3" cy="363.0" r="2.72" fill="#f28de8" stroke="#ef6ff0" stroke-width="0.6"/>
<polyline points="281.4,325.2 281.4,322.3 298.5,322.3 298.5,325.2" fill="none" stroke="#222" stroke-width="1.15"/>
<text x="289.1" y="318.1" font-size="10.4" text-anchor="middle" font-weight="normal" fill="#1c1c1c">0.0238</text>
<polyline points="300.1,302.3 300.1,299.4 334.6,299.4 334.6,302.3" fill="none" stroke="#222" stroke-width="1.15"/>
<text x="318.0" y="296.4" font-size="10.4" text-anchor="middle" font-weight="normal" fill="#1c1c1c">0.0019</text>
<text x="440.9" y="283.9" font-size="10.9" text-anchor="start" font-weight="normal" fill="#1c1c1c">Y-Maze</text>
<rect x="434.20" y="356.00" width="12.70" height="43.70" fill="#8f8f8f"/>
<rect x="450.20" y="351.60" width="12.90" height="48.10" fill="#b0255f"/>
<rect x="470.20" y="347.00" width="12.90" height="52.70" fill="#8f8f8f"/>
<rect x="486.40" y="348.60" width="12.40" height="51.10" fill="#b0255f"/>
<line x1="440.50" y1="340.00" x2="440.50" y2="372.00" stroke="#333" stroke-width="0.8"/>
<line x1="438.90" y1="340.00" x2="442.10" y2="340.00" stroke="#333" stroke-width="0.8"/>
<line x1="438.90" y1="372.00" x2="442.10" y2="372.00" stroke="#333" stroke-width="0.8"/>
<line x1="456.60" y1="347.00" x2="456.60" y2="356.00" stroke="#333" stroke-width="0.8"/>
<line x1="455.00" y1="347.00" x2="458.20" y2="347.00" stroke="#333" stroke-width="0.8"/>
<line x1="455.00" y1="356.00" x2="458.20" y2="356.00" stroke="#333" stroke-width="0.8"/>
<line x1="476.60" y1="340.00" x2="476.60" y2="355.00" stroke="#333" stroke-width="0.8"/>
<line x1="475.00" y1="340.00" x2="478.20" y2="340.00" stroke="#333" stroke-width="0.8"/>
<line x1="475.00" y1="355.00" x2="478.20" y2="355.00" stroke="#333" stroke-width="0.8"/>
<line x1="492.60" y1="337.00" x2="492.60" y2="360.00" stroke="#e070e0" stroke-width="0.8"/>
<line x1="491.00" y1="337.00" x2="494.20" y2="337.00" stroke="#e070e0" stroke-width="0.8"/>
<line x1="491.00" y1="360.00" x2="494.20" y2="360.00" stroke="#e070e0" stroke-width="0.8"/>
<line x1="427.20" y1="300.30" x2="427.20" y2="400.20" stroke="#919191" stroke-width="1.2"/>
<line x1="424.60" y1="399.70" x2="427.20" y2="399.70" stroke="#7a7a7a" stroke-width="1.0"/>
<text x="422.2" y="403.0" font-size="10.4" text-anchor="end" font-weight="normal" fill="#1c1c1c">0</text>
<line x1="424.60" y1="379.90" x2="427.20" y2="379.90" stroke="#7a7a7a" stroke-width="1.0"/>
<text x="422.2" y="383.2" font-size="10.4" text-anchor="end" font-weight="normal" fill="#1c1c1c">10</text>
<line x1="424.60" y1="360.10" x2="427.20" y2="360.10" stroke="#7a7a7a" stroke-width="1.0"/>
<text x="422.2" y="363.4" font-size="10.4" text-anchor="end" font-weight="normal" fill="#1c1c1c">20</text>
<line x1="424.60" y1="340.40" x2="427.20" y2="340.40" stroke="#7a7a7a" stroke-width="1.0"/>
<text x="422.2" y="343.7" font-size="10.4" text-anchor="end" font-weight="normal" fill="#1c1c1c">30</text>
<line x1="424.60" y1="320.70" x2="427.20" y2="320.70" stroke="#7a7a7a" stroke-width="1.0"/>
<text x="422.2" y="324.0" font-size="10.4" text-anchor="end" font-weight="normal" fill="#1c1c1c">40</text>
<line x1="424.60" y1="300.80" x2="427.20" y2="300.80" stroke="#7a7a7a" stroke-width="1.0"/>
<text x="422.2" y="304.1" font-size="10.4" text-anchor="end" font-weight="normal" fill="#1c1c1c">50</text>
<line x1="424.60" y1="399.70" x2="506.10" y2="399.70" stroke="#7a7a7a" stroke-width="1.0"/>
<line x1="440.50" y1="399.70" x2="440.50" y2="402.20" stroke="#8a8a8a" stroke-width="1.0"/>
<line x1="456.60" y1="399.70" x2="456.60" y2="402.20" stroke="#8a8a8a" stroke-width="1.0"/>
<line x1="476.60" y1="399.70" x2="476.60" y2="402.20" stroke="#8a8a8a" stroke-width="1.0"/>
<line x1="492.60" y1="399.70" x2="492.60" y2="402.20" stroke="#8a8a8a" stroke-width="1.0"/>
<text x="439.8" y="410.3" font-size="11.2" text-anchor="end" fill="#1c1c1c" transform="rotate(-45 439.8 410.3)">Ctrl</text>
<text x="460.9" y="409.3" font-size="11.2" text-anchor="end" fill="#1c1c1c" transform="rotate(-45 460.9 409.3)">SAMP8</text>
<text x="478.1" y="407.5" font-size="11.2" text-anchor="end" fill="#1c1c1c" transform="rotate(-45 478.1 407.5)">Ctrl+</text>
<text x="498.1" y="408.1" font-size="11.2" text-anchor="end" fill="#1c1c1c" transform="rotate(-45 498.1 408.1)">SAMP8+</text>
<text x="395.3" y="360.5" font-size="10.3" text-anchor="middle" fill="#1c1c1c" transform="rotate(-90 395.3 360.5)" textLength="29.2" lengthAdjust="spacingAndGlyphs">Entries</text>
<circle cx="440.4" cy="332.6" r="2.70" fill="#fff" stroke="#111" stroke-width="0.65"/>
<circle cx="440.4" cy="338.5" r="2.70" fill="#fff" stroke="#111" stroke-width="0.65"/>
<circle cx="439.1" cy="344.4" r="2.70" fill="#fff" stroke="#111" stroke-width="0.65"/>
<circle cx="442.3" cy="344.4" r="2.70" fill="#fff" stroke="#111" stroke-width="0.65"/>
<circle cx="440.4" cy="354.2" r="2.70" fill="#fff" stroke="#111" stroke-width="0.65"/>
<circle cx="439.0" cy="370.2" r="2.70" fill="#fff" stroke="#111" stroke-width="0.65"/>
<circle cx="436.4" cy="374.2" r="2.70" fill="#fff" stroke="#111" stroke-width="0.65"/>
<circle cx="441.7" cy="371.9" r="2.70" fill="#fff" stroke="#111" stroke-width="0.65"/>
<circle cx="444.7" cy="371.9" r="2.70" fill="#fff" stroke="#111" stroke-width="0.65"/>
<circle cx="456.8" cy="340.4" r="2.62" fill="#fff" stroke="#e4a0f8" stroke-width="0.8"/>
<circle cx="456.8" cy="346.4" r="2.62" fill="#fff" stroke="#e4a0f8" stroke-width="0.8"/>
<circle cx="453.5" cy="350.3" r="2.62" fill="#fff" stroke="#e4a0f8" stroke-width="0.8"/>
<circle cx="460.1" cy="350.3" r="2.62" fill="#fff" stroke="#e4a0f8" stroke-width="0.8"/>
<circle cx="457.4" cy="355.5" r="2.62" fill="#fff" stroke="#e4a0f8" stroke-width="0.8"/>
<circle cx="455.5" cy="358.6" r="2.62" fill="#fff" stroke="#e4a0f8" stroke-width="0.8"/>
<circle cx="472.6" cy="337.8" r="3.02" fill="#000"/>
<circle cx="476.5" cy="336.2" r="3.02" fill="#000"/>
<circle cx="479.8" cy="340.4" r="3.02" fill="#000"/>
<circle cx="472.6" cy="344.4" r="3.02" fill="#000"/>
<circle cx="477.2" cy="348.3" r="3.02" fill="#000"/>
<circle cx="475.8" cy="358.6" r="3.02" fill="#000"/>
<circle cx="475.8" cy="370.2" r="3.02" fill="#000"/>
<circle cx="492.3" cy="323.1" r="2.72" fill="#f28de8" stroke="#ef6ff0" stroke-width="0.6"/>
<circle cx="489.6" cy="336.5" r="2.72" fill="#f28de8" stroke="#ef6ff0" stroke-width="0.6"/>
<circle cx="494.9" cy="336.5" r="2.72" fill="#f28de8" stroke="#ef6ff0" stroke-width="0.6"/>
<circle cx="492.3" cy="339.1" r="2.72" fill="#f28de8" stroke="#ef6ff0" stroke-width="0.6"/>
<circle cx="488.3" cy="357.5" r="2.72" fill="#f28de8" stroke="#ef6ff0" stroke-width="0.6"/>
<circle cx="493.6" cy="355.5" r="2.72" fill="#f28de8" stroke="#ef6ff0" stroke-width="0.6"/>
<circle cx="496.2" cy="356.4" r="2.72" fill="#f28de8" stroke="#ef6ff0" stroke-width="0.6"/>
<circle cx="492.9" cy="359.7" r="2.72" fill="#f28de8" stroke="#ef6ff0" stroke-width="0.6"/>
<circle cx="490.3" cy="366.3" r="2.72" fill="#f28de8" stroke="#ef6ff0" stroke-width="0.6"/>
<circle cx="493.6" cy="366.3" r="2.72" fill="#f28de8" stroke="#ef6ff0" stroke-width="0.6"/>
<rect x="599.40" y="375.30" width="12.70" height="24.10" fill="#8f8f8f"/>
<rect x="615.10" y="385.10" width="13.30" height="14.30" fill="#b0255f"/>
<rect x="634.90" y="365.80" width="12.80" height="33.60" fill="#8f8f8f"/>
<rect x="651.20" y="362.70" width="12.60" height="36.70" fill="#b0255f"/>
<line x1="605.70" y1="352.50" x2="605.70" y2="390.00" stroke="#333" stroke-width="0.8"/>
<line x1="604.10" y1="352.50" x2="607.30" y2="352.50" stroke="#333" stroke-width="0.8"/>
<line x1="604.10" y1="390.00" x2="607.30" y2="390.00" stroke="#333" stroke-width="0.8"/>
<line x1="622.10" y1="375.30" x2="622.10" y2="392.00" stroke="#333" stroke-width="0.8"/>
<line x1="620.50" y1="375.30" x2="623.70" y2="375.30" stroke="#333" stroke-width="0.8"/>
<line x1="620.50" y1="392.00" x2="623.70" y2="392.00" stroke="#333" stroke-width="0.8"/>
<line x1="641.00" y1="347.80" x2="641.00" y2="385.00" stroke="#333" stroke-width="0.8"/>
<line x1="639.40" y1="347.80" x2="642.60" y2="347.80" stroke="#333" stroke-width="0.8"/>
<line x1="639.40" y1="385.00" x2="642.60" y2="385.00" stroke="#333" stroke-width="0.8"/>
<line x1="657.50" y1="350.00" x2="657.50" y2="375.00" stroke="#e070e0" stroke-width="0.8"/>
<line x1="655.90" y1="350.00" x2="659.10" y2="350.00" stroke="#e070e0" stroke-width="0.8"/>
<line x1="655.90" y1="375.00" x2="659.10" y2="375.00" stroke="#e070e0" stroke-width="0.8"/>
<line x1="592.50" y1="300.90" x2="592.50" y2="399.90" stroke="#7a7a7a" stroke-width="1.0"/>
<line x1="589.90" y1="399.40" x2="592.50" y2="399.40" stroke="#7a7a7a" stroke-width="1.0"/>
<text x="587.2" y="402.7" font-size="10.4" text-anchor="end" font-weight="normal" fill="#1c1c1c">0</text>
<line x1="589.90" y1="375.40" x2="592.50" y2="375.40" stroke="#7a7a7a" stroke-width="1.0"/>
<text x="587.2" y="378.7" font-size="10.4" text-anchor="end" font-weight="normal" fill="#1c1c1c">5</text>
<line x1="589.90" y1="350.40" x2="592.50" y2="350.40" stroke="#7a7a7a" stroke-width="1.0"/>
<text x="587.2" y="353.7" font-size="10.4" text-anchor="end" font-weight="normal" fill="#1c1c1c">10</text>
<line x1="589.90" y1="326.20" x2="592.50" y2="326.20" stroke="#7a7a7a" stroke-width="1.0"/>
<text x="587.2" y="329.5" font-size="10.4" text-anchor="end" font-weight="normal" fill="#1c1c1c">15</text>
<line x1="589.90" y1="301.40" x2="592.50" y2="301.40" stroke="#7a7a7a" stroke-width="1.0"/>
<text x="587.2" y="304.7" font-size="10.4" text-anchor="end" font-weight="normal" fill="#1c1c1c">20</text>
<line x1="589.90" y1="399.40" x2="670.80" y2="399.40" stroke="#7a7a7a" stroke-width="1.0"/>
<line x1="605.70" y1="399.40" x2="605.70" y2="401.90" stroke="#8a8a8a" stroke-width="1.0"/>
<line x1="621.80" y1="399.40" x2="621.80" y2="401.90" stroke="#8a8a8a" stroke-width="1.0"/>
<line x1="641.30" y1="399.40" x2="641.30" y2="401.90" stroke="#8a8a8a" stroke-width="1.0"/>
<line x1="657.50" y1="399.40" x2="657.50" y2="401.90" stroke="#8a8a8a" stroke-width="1.0"/>
<text x="604.7" y="410.3" font-size="11.2" text-anchor="end" fill="#1c1c1c" transform="rotate(-45 604.7 410.3)">Ctrl</text>
<text x="624.8" y="409.0" font-size="11.2" text-anchor="end" fill="#1c1c1c" transform="rotate(-45 624.8 409.0)">SAMP8</text>
<text x="643.1" y="407.2" font-size="11.2" text-anchor="end" fill="#1c1c1c" transform="rotate(-45 643.1 407.2)">Ctrl+</text>
<text x="663.0" y="407.2" font-size="11.2" text-anchor="end" fill="#1c1c1c" transform="rotate(-45 663.0 407.2)">SAMP8+</text>
<text x="559.2" y="353.7" font-size="10.3" text-anchor="middle" fill="#1c1c1c" transform="rotate(-90 559.2 353.7)" textLength="95" lengthAdjust="spacingAndGlyphs">Number of alternations</text>
<circle cx="605.5" cy="355.0" r="2.48" fill="#fff" stroke="#111" stroke-width="0.65"/>
<circle cx="602.0" cy="360.3" r="2.48" fill="#fff" stroke="#111" stroke-width="0.65"/>
<circle cx="609.0" cy="360.3" r="2.48" fill="#fff" stroke="#111" stroke-width="0.65"/>
<circle cx="602.0" cy="374.9" r="2.48" fill="#fff" stroke="#111" stroke-width="0.65"/>
<circle cx="606.1" cy="374.9" r="2.48" fill="#fff" stroke="#111" stroke-width="0.65"/>
<circle cx="609.0" cy="380.2" r="2.48" fill="#fff" stroke="#111" stroke-width="0.65"/>
<circle cx="605.5" cy="384.8" r="2.48" fill="#fff" stroke="#111" stroke-width="0.65"/>
<circle cx="602.0" cy="390.1" r="2.48" fill="#fff" stroke="#111" stroke-width="0.65"/>
<circle cx="609.0" cy="390.1" r="2.48" fill="#fff" stroke="#111" stroke-width="0.65"/>
<circle cx="621.6" cy="370.2" r="2.40" fill="#fff" stroke="#e4a0f8" stroke-width="0.8"/>
<circle cx="622.3" cy="370.2" r="2.40" fill="#fff" stroke="#e4a0f8" stroke-width="0.8"/>
<circle cx="621.9" cy="384.8" r="2.40" fill="#fff" stroke="#e4a0f8" stroke-width="0.8"/>
<circle cx="617.8" cy="390.1" r="2.40" fill="#fff" stroke="#e4a0f8" stroke-width="0.8"/>
<circle cx="620.1" cy="390.1" r="2.40" fill="#fff" stroke="#e4a0f8" stroke-width="0.8"/>
<circle cx="624.2" cy="390.1" r="2.40" fill="#fff" stroke="#e4a0f8" stroke-width="0.8"/>
<circle cx="625.4" cy="394.8" r="2.40" fill="#fff" stroke="#e4a0f8" stroke-width="0.8"/>
<circle cx="641.1" cy="326.4" r="2.80" fill="#000"/>
<circle cx="641.1" cy="341.0" r="2.80" fill="#000"/>
<circle cx="641.1" cy="350.6" r="2.80" fill="#000"/>
<circle cx="640.0" cy="360.7" r="2.80" fill="#000"/>
<circle cx="637.6" cy="365.0" r="2.80" fill="#000"/>
<circle cx="640.0" cy="370.2" r="2.80" fill="#000"/>
<circle cx="644.6" cy="370.2" r="2.80" fill="#000"/>
<circle cx="637.6" cy="374.3" r="2.80" fill="#000"/>
<circle cx="642.3" cy="374.9" r="2.80" fill="#000"/>
<circle cx="640.0" cy="380.2" r="2.80" fill="#000"/>
<circle cx="642.3" cy="384.8" r="2.80" fill="#000"/>
<circle cx="640.0" cy="390.1" r="2.80" fill="#000"/>
<circle cx="658.7" cy="345.5" r="2.50" fill="#f28de8" stroke="#ef6ff0" stroke-width="0.6"/>
<circle cx="655.7" cy="350.6" r="2.50" fill="#f28de8" stroke="#ef6ff0" stroke-width="0.6"/>
<circle cx="653.4" cy="355.0" r="2.50" fill="#f28de8" stroke="#ef6ff0" stroke-width="0.6"/>
<circle cx="658.7" cy="355.6" r="2.50" fill="#f28de8" stroke="#ef6ff0" stroke-width="0.6"/>
<circle cx="662.2" cy="355.0" r="2.50" fill="#f28de8" stroke="#ef6ff0" stroke-width="0.6"/>
<circle cx="655.7" cy="360.3" r="2.50" fill="#f28de8" stroke="#ef6ff0" stroke-width="0.6"/>
<circle cx="653.4" cy="365.6" r="2.50" fill="#f28de8" stroke="#ef6ff0" stroke-width="0.6"/>
<circle cx="658.7" cy="365.6" r="2.50" fill="#f28de8" stroke="#ef6ff0" stroke-width="0.6"/>
<circle cx="662.2" cy="366.1" r="2.50" fill="#f28de8" stroke="#ef6ff0" stroke-width="0.6"/>
<circle cx="655.7" cy="370.2" r="2.50" fill="#f28de8" stroke="#ef6ff0" stroke-width="0.6"/>
<circle cx="658.7" cy="375.5" r="2.50" fill="#f28de8" stroke="#ef6ff0" stroke-width="0.6"/>
<circle cx="657.5" cy="384.8" r="2.50" fill="#f28de8" stroke="#ef6ff0" stroke-width="0.6"/>
<polyline points="604.3,343.4 604.3,340.4 621.8,340.4 621.8,343.4" fill="none" stroke="#222" stroke-width="1.15"/>
<text x="613.5" y="338.7" font-size="10.4" text-anchor="middle" font-weight="normal" fill="#1c1c1c">0.0888</text>
<polyline points="622.3,320.6 622.3,317.5 657.1,317.5 657.1,320.6" fill="none" stroke="#222" stroke-width="1.15"/>
<text x="641.9" y="314.5" font-size="10.4" text-anchor="middle" font-weight="normal" fill="#1c1c1c">0.0466</text>
<text x="55.4" y="522.2" font-size="10.95" text-anchor="start" font-weight="normal" fill="#1c1c1c">Elevated-plus Maze</text>
<rect x="76.60" y="635.10" width="13.20" height="10.10" fill="#8f8f8f"/>
<rect x="93.30" y="602.70" width="12.60" height="42.50" fill="#b0255f"/>
<rect x="112.50" y="640.80" width="13.20" height="4.40" fill="#8f8f8f"/>
<rect x="129.20" y="603.00" width="12.70" height="42.20" fill="#b0255f"/>
<line x1="83.20" y1="628.00" x2="83.20" y2="642.00" stroke="#333" stroke-width="0.8"/>
<line x1="81.60" y1="628.00" x2="84.80" y2="628.00" stroke="#333" stroke-width="0.8"/>
<line x1="81.60" y1="642.00" x2="84.80" y2="642.00" stroke="#333" stroke-width="0.8"/>
<line x1="99.60" y1="581.70" x2="99.60" y2="622.80" stroke="#333" stroke-width="0.8"/>
<line x1="98.00" y1="581.70" x2="101.20" y2="581.70" stroke="#333" stroke-width="0.8"/>
<line x1="98.00" y1="622.80" x2="101.20" y2="622.80" stroke="#333" stroke-width="0.8"/>
<line x1="119.10" y1="631.20" x2="119.10" y2="645.00" stroke="#999" stroke-width="0.8"/>
<line x1="117.50" y1="631.20" x2="120.70" y2="631.20" stroke="#999" stroke-width="0.8"/>
<line x1="117.50" y1="645.00" x2="120.70" y2="645.00" stroke="#999" stroke-width="0.8"/>
<line x1="135.60" y1="575.00" x2="135.60" y2="630.00" stroke="#e070e0" stroke-width="0.8"/>
<line x1="134.00" y1="575.00" x2="137.20" y2="575.00" stroke="#e070e0" stroke-width="0.8"/>
<line x1="134.00" y1="630.00" x2="137.20" y2="630.00" stroke="#e070e0" stroke-width="0.8"/>
<line x1="70.00" y1="545.90" x2="70.00" y2="645.70" stroke="#bdbdbd" stroke-width="2.0"/>
<line x1="67.40" y1="645.20" x2="70.00" y2="645.20" stroke="#7a7a7a" stroke-width="1.0"/>
<text x="64.4" y="648.5" font-size="10.4" text-anchor="end" font-weight="normal" fill="#1c1c1c">0</text>
<line x1="67.40" y1="596.40" x2="70.00" y2="596.40" stroke="#7a7a7a" stroke-width="1.0"/>
<text x="64.4" y="599.7" font-size="10.4" text-anchor="end" font-weight="normal" fill="#1c1c1c">50</text>
<line x1="67.40" y1="546.40" x2="70.00" y2="546.40" stroke="#7a7a7a" stroke-width="1.0"/>
<text x="64.4" y="549.7" font-size="10.4" text-anchor="end" font-weight="normal" fill="#1c1c1c">100</text>
<line x1="67.40" y1="645.20" x2="149.00" y2="645.20" stroke="#7a7a7a" stroke-width="1.0"/>
<line x1="83.20" y1="645.20" x2="83.20" y2="647.70" stroke="#8a8a8a" stroke-width="1.0"/>
<line x1="99.60" y1="645.20" x2="99.60" y2="647.70" stroke="#8a8a8a" stroke-width="1.0"/>
<line x1="119.10" y1="645.20" x2="119.10" y2="647.70" stroke="#8a8a8a" stroke-width="1.0"/>
<line x1="135.60" y1="645.20" x2="135.60" y2="647.70" stroke="#8a8a8a" stroke-width="1.0"/>
<text x="83.8" y="654.8" font-size="11.2" text-anchor="end" fill="#1c1c1c" transform="rotate(-45 83.8 654.8)">Ctrl</text>
<text x="102.9" y="655.2" font-size="11.2" text-anchor="end" fill="#1c1c1c" transform="rotate(-45 102.9 655.2)">SAMP8</text>
<text x="121.5" y="653.9" font-size="11.2" text-anchor="end" fill="#1c1c1c" transform="rotate(-45 121.5 653.9)">Ctrl+</text>
<text x="137.1" y="654.8" font-size="11.2" text-anchor="end" fill="#1c1c1c" transform="rotate(-45 137.1 654.8)">SAMP8+</text>
<text x="33.6" y="595.0" font-size="10.3" text-anchor="middle" fill="#1c1c1c" transform="rotate(-90 33.6 595.0)" textLength="83.5" lengthAdjust="spacingAndGlyphs">% Time opem arms</text>
<circle cx="82.8" cy="610.2" r="2.81" fill="#fff" stroke="#111" stroke-width="0.65"/>
<circle cx="82.8" cy="616.1" r="2.81" fill="#fff" stroke="#111" stroke-width="0.65"/>
<circle cx="82.8" cy="623.7" r="2.81" fill="#fff" stroke="#111" stroke-width="0.65"/>
<circle cx="82.8" cy="631.2" r="2.81" fill="#fff" stroke="#111" stroke-width="0.65"/>
<circle cx="79.3" cy="637.7" r="2.81" fill="#fff" stroke="#111" stroke-width="0.65"/>
<circle cx="82.8" cy="638.6" r="2.81" fill="#fff" stroke="#111" stroke-width="0.65"/>
<circle cx="86.3" cy="637.7" r="2.81" fill="#fff" stroke="#111" stroke-width="0.65"/>
<circle cx="79.3" cy="643.0" r="2.81" fill="#fff" stroke="#111" stroke-width="0.65"/>
<circle cx="82.8" cy="642.0" r="2.81" fill="#fff" stroke="#111" stroke-width="0.65"/>
<circle cx="86.3" cy="643.8" r="2.81" fill="#fff" stroke="#111" stroke-width="0.65"/>
<circle cx="99.9" cy="565.5" r="2.74" fill="#fff" stroke="#e4a0f8" stroke-width="0.8"/>
<circle cx="97.1" cy="576.4" r="2.74" fill="#fff" stroke="#e4a0f8" stroke-width="0.8"/>
<circle cx="101.7" cy="580.4" r="2.74" fill="#fff" stroke="#e4a0f8" stroke-width="0.8"/>
<circle cx="95.9" cy="588.3" r="2.74" fill="#fff" stroke="#e4a0f8" stroke-width="0.8"/>
<circle cx="103.4" cy="591.6" r="2.74" fill="#fff" stroke="#e4a0f8" stroke-width="0.8"/>
<circle cx="95.9" cy="595.7" r="2.74" fill="#fff" stroke="#e4a0f8" stroke-width="0.8"/>
<circle cx="103.4" cy="598.3" r="2.74" fill="#fff" stroke="#e4a0f8" stroke-width="0.8"/>
<circle cx="99.9" cy="600.0" r="2.74" fill="#fff" stroke="#e4a0f8" stroke-width="0.8"/>
<circle cx="95.9" cy="602.7" r="2.74" fill="#fff" stroke="#e4a0f8" stroke-width="0.8"/>
<circle cx="95.9" cy="610.9" r="2.74" fill="#fff" stroke="#e4a0f8" stroke-width="0.8"/>
<circle cx="99.9" cy="611.9" r="2.74" fill="#fff" stroke="#e4a0f8" stroke-width="0.8"/>
<circle cx="95.9" cy="621.9" r="2.74" fill="#fff" stroke="#e4a0f8" stroke-width="0.8"/>
<circle cx="103.4" cy="625.4" r="2.74" fill="#fff" stroke="#e4a0f8" stroke-width="0.8"/>
<circle cx="99.9" cy="627.2" r="2.74" fill="#fff" stroke="#e4a0f8" stroke-width="0.8"/>
<circle cx="99.9" cy="640.7" r="2.74" fill="#fff" stroke="#e4a0f8" stroke-width="0.8"/>
<circle cx="115.6" cy="644.3" r="2.81" fill="#fff" stroke="#111" stroke-width="0.65"/>
<circle cx="117.0" cy="644.7" r="2.81" fill="#fff" stroke="#111" stroke-width="0.65"/>
<circle cx="123.6" cy="644.3" r="2.81" fill="#fff" stroke="#111" stroke-width="0.65"/>
<circle cx="119.5" cy="613.2" r="3.14" fill="#000"/>
<circle cx="119.5" cy="621.4" r="3.14" fill="#000"/>
<circle cx="121.4" cy="644.3" r="3.14" fill="#000"/>
<circle cx="135.6" cy="555.9" r="2.84" fill="#f28de8" stroke="#ef6ff0" stroke-width="0.6"/>
<circle cx="135.6" cy="562.4" r="2.84" fill="#f28de8" stroke="#ef6ff0" stroke-width="0.6"/>
<circle cx="139.7" cy="572.5" r="2.84" fill="#f28de8" stroke="#ef6ff0" stroke-width="0.6"/>
<circle cx="134.4" cy="573.4" r="2.84" fill="#f28de8" stroke="#ef6ff0" stroke-width="0.6"/>
<circle cx="137.0" cy="577.3" r="2.84" fill="#f28de8" stroke="#ef6ff0" stroke-width="0.6"/>
<circle cx="133.5" cy="579.0" r="2.84" fill="#f28de8" stroke="#ef6ff0" stroke-width="0.6"/>
<circle cx="135.6" cy="588.7" r="2.84" fill="#f28de8" stroke="#ef6ff0" stroke-width="0.6"/>
<circle cx="133.5" cy="591.3" r="2.84" fill="#f28de8" stroke="#ef6ff0" stroke-width="0.6"/>
<circle cx="137.0" cy="604.4" r="2.84" fill="#f28de8" stroke="#ef6ff0" stroke-width="0.6"/>
<circle cx="133.5" cy="605.3" r="2.84" fill="#f28de8" stroke="#ef6ff0" stroke-width="0.6"/>
<circle cx="135.6" cy="611.4" r="2.84" fill="#f28de8" stroke="#ef6ff0" stroke-width="0.6"/>
<circle cx="135.6" cy="629.8" r="2.84" fill="#f28de8" stroke="#ef6ff0" stroke-width="0.6"/>
<circle cx="133.5" cy="636.8" r="2.84" fill="#f28de8" stroke="#ef6ff0" stroke-width="0.6"/>
<circle cx="137.0" cy="639.4" r="2.84" fill="#f28de8" stroke="#ef6ff0" stroke-width="0.6"/>
<circle cx="132.7" cy="643.8" r="2.84" fill="#f28de8" stroke="#ef6ff0" stroke-width="0.6"/>
<circle cx="138.8" cy="643.8" r="2.84" fill="#f28de8" stroke="#ef6ff0" stroke-width="0.6"/>
<polyline points="82.4,557.3 82.4,554.5 99.9,554.5 99.9,557.3" fill="none" stroke="#222" stroke-width="1.15"/>
<text x="89.5" y="550.7" font-size="10.4" text-anchor="middle" font-weight="normal" fill="#1c1c1c">0.0004</text>
<polyline points="117.8,549.4 117.8,546.6 134.4,546.6 134.4,549.4" fill="none" stroke="#222" stroke-width="1.15"/>
<text x="132.0" y="543.7" font-size="10.4" text-anchor="middle" font-weight="normal" fill="#1c1c1c">&lt;0.0001</text>
<text x="275.7" y="515.3" font-size="10.85" text-anchor="start" font-weight="normal" fill="#1c1c1c">Open field</text>
<rect x="273.70" y="608.30" width="12.90" height="37.00" fill="#8f8f8f"/>
<rect x="290.00" y="589.30" width="13.10" height="56.00" fill="#b0255f"/>
<rect x="309.70" y="608.30" width="13.00" height="37.00" fill="#8f8f8f"/>
<rect x="326.10" y="579.20" width="12.70" height="66.10" fill="#b0255f"/>
<line x1="280.20" y1="598.00" x2="280.20" y2="618.00" stroke="#333" stroke-width="0.8"/>
<line x1="278.60" y1="598.00" x2="281.80" y2="598.00" stroke="#333" stroke-width="0.8"/>
<line x1="278.60" y1="618.00" x2="281.80" y2="618.00" stroke="#333" stroke-width="0.8"/>
<line x1="296.60" y1="575.00" x2="296.60" y2="603.00" stroke="#333" stroke-width="0.8"/>
<line x1="295.00" y1="575.00" x2="298.20" y2="575.00" stroke="#333" stroke-width="0.8"/>
<line x1="295.00" y1="603.00" x2="298.20" y2="603.00" stroke="#333" stroke-width="0.8"/>
<line x1="316.20" y1="590.00" x2="316.20" y2="626.00" stroke="#333" stroke-width="0.8"/>
<line x1="314.60" y1="590.00" x2="317.80" y2="590.00" stroke="#333" stroke-width="0.8"/>
<line x1="314.60" y1="626.00" x2="317.80" y2="626.00" stroke="#333" stroke-width="0.8"/>
<line x1="332.50" y1="566.00" x2="332.50" y2="592.00" stroke="#e070e0" stroke-width="0.8"/>
<line x1="330.90" y1="566.00" x2="334.10" y2="566.00" stroke="#e070e0" stroke-width="0.8"/>
<line x1="330.90" y1="592.00" x2="334.10" y2="592.00" stroke="#e070e0" stroke-width="0.8"/>
<line x1="267.00" y1="546.10" x2="267.00" y2="645.80" stroke="#b8b8b8" stroke-width="2.0"/>
<line x1="264.40" y1="645.30" x2="267.00" y2="645.30" stroke="#7a7a7a" stroke-width="1.0"/>
<text x="261.7" y="648.6" font-size="10.4" text-anchor="end" font-weight="normal" fill="#1c1c1c">0</text>
<line x1="264.40" y1="612.50" x2="267.00" y2="612.50" stroke="#7a7a7a" stroke-width="1.0"/>
<text x="261.7" y="615.8" font-size="10.4" text-anchor="end" font-weight="normal" fill="#1c1c1c">2000</text>
<line x1="264.40" y1="579.40" x2="267.00" y2="579.40" stroke="#7a7a7a" stroke-width="1.0"/>
<text x="261.7" y="582.7" font-size="10.4" text-anchor="end" font-weight="normal" fill="#1c1c1c">4000</text>
<line x1="264.40" y1="546.60" x2="267.00" y2="546.60" stroke="#7a7a7a" stroke-width="1.0"/>
<text x="261.7" y="549.9" font-size="10.4" text-anchor="end" font-weight="normal" fill="#1c1c1c">6000</text>
<line x1="264.40" y1="645.30" x2="345.80" y2="645.30" stroke="#7a7a7a" stroke-width="1.0"/>
<line x1="280.20" y1="645.30" x2="280.20" y2="647.80" stroke="#8a8a8a" stroke-width="1.0"/>
<line x1="296.60" y1="645.30" x2="296.60" y2="647.80" stroke="#8a8a8a" stroke-width="1.0"/>
<line x1="316.20" y1="645.30" x2="316.20" y2="647.80" stroke="#8a8a8a" stroke-width="1.0"/>
<line x1="332.50" y1="645.30" x2="332.50" y2="647.80" stroke="#8a8a8a" stroke-width="1.0"/>
<text x="279.8" y="654.0" font-size="11.2" text-anchor="end" fill="#1c1c1c" transform="rotate(-45 279.8 654.0)">Ctrl</text>
<text x="299.0" y="654.9" font-size="11.2" text-anchor="end" fill="#1c1c1c" transform="rotate(-45 299.0 654.9)">SAMP8</text>
<text x="319.9" y="653.4" font-size="11.2" text-anchor="end" fill="#1c1c1c" transform="rotate(-45 319.9 653.4)">Ctrl+</text>
<text x="338.3" y="654.0" font-size="11.2" text-anchor="end" fill="#1c1c1c" transform="rotate(-45 338.3 654.0)">SAMP8+</text>
<text x="222.4" y="597.5" font-size="10.3" text-anchor="middle" fill="#1c1c1c" transform="rotate(-90 222.4 597.5)" textLength="80" lengthAdjust="spacingAndGlyphs">Total distance (cm)</text>
<circle cx="279.9" cy="591.2" r="2.81" fill="#fff" stroke="#111" stroke-width="0.65"/>
<circle cx="277.1" cy="596.0" r="2.81" fill="#fff" stroke="#111" stroke-width="0.65"/>
<circle cx="282.4" cy="598.8" r="2.81" fill="#fff" stroke="#111" stroke-width="0.65"/>
<circle cx="277.1" cy="603.5" r="2.81" fill="#fff" stroke="#111" stroke-width="0.65"/>
<circle cx="279.9" cy="605.4" r="2.81" fill="#fff" stroke="#111" stroke-width="0.65"/>
<circle cx="275.2" cy="607.7" r="2.81" fill="#fff" stroke="#111" stroke-width="0.65"/>
<circle cx="282.4" cy="607.7" r="2.81" fill="#fff" stroke="#111" stroke-width="0.65"/>
<circle cx="279.0" cy="611.1" r="2.81" fill="#fff" stroke="#111" stroke-width="0.65"/>
<circle cx="277.1" cy="614.9" r="2.81" fill="#fff" stroke="#111" stroke-width="0.65"/>
<circle cx="282.4" cy="616.8" r="2.81" fill="#fff" stroke="#111" stroke-width="0.65"/>
<circle cx="277.1" cy="619.1" r="2.81" fill="#fff" stroke="#111" stroke-width="0.65"/>
<circle cx="296.1" cy="564.2" r="2.74" fill="#fff" stroke="#e4a0f8" stroke-width="0.8"/>
<circle cx="292.7" cy="576.0" r="2.74" fill="#fff" stroke="#e4a0f8" stroke-width="0.8"/>
<circle cx="298.9" cy="575.1" r="2.74" fill="#fff" stroke="#e4a0f8" stroke-width="0.8"/>
<circle cx="300.4" cy="580.8" r="2.74" fill="#fff" stroke="#e4a0f8" stroke-width="0.8"/>
<circle cx="294.2" cy="582.7" r="2.74" fill="#fff" stroke="#e4a0f8" stroke-width="0.8"/>
<circle cx="300.4" cy="586.5" r="2.74" fill="#fff" stroke="#e4a0f8" stroke-width="0.8"/>
<circle cx="294.2" cy="592.1" r="2.74" fill="#fff" stroke="#e4a0f8" stroke-width="0.8"/>
<circle cx="297.0" cy="595.9" r="2.74" fill="#fff" stroke="#e4a0f8" stroke-width="0.8"/>
<circle cx="299.9" cy="601.3" r="2.74" fill="#fff" stroke="#e4a0f8" stroke-width="0.8"/>
<circle cx="294.2" cy="603.5" r="2.74" fill="#fff" stroke="#e4a0f8" stroke-width="0.8"/>
<circle cx="297.4" cy="607.7" r="2.74" fill="#fff" stroke="#e4a0f8" stroke-width="0.8"/>
<circle cx="296.1" cy="614.6" r="2.74" fill="#fff" stroke="#e4a0f8" stroke-width="0.8"/>
<circle cx="319.8" cy="586.1" r="3.14" fill="#000"/>
<circle cx="317.0" cy="590.2" r="3.14" fill="#000"/>
<circle cx="319.8" cy="594.0" r="3.14" fill="#000"/>
<circle cx="314.1" cy="596.9" r="3.14" fill="#000"/>
<circle cx="311.3" cy="618.7" r="3.14" fill="#000"/>
<circle cx="317.0" cy="617.8" r="3.14" fill="#000"/>
<circle cx="319.8" cy="615.9" r="3.14" fill="#000"/>
<circle cx="314.1" cy="622.5" r="3.14" fill="#000"/>
<circle cx="319.8" cy="622.9" r="3.14" fill="#000"/>
<circle cx="312.2" cy="626.3" r="3.14" fill="#000"/>
<circle cx="332.1" cy="556.1" r="2.84" fill="#f28de8" stroke="#ef6ff0" stroke-width="0.6"/>
<circle cx="331.2" cy="564.6" r="2.84" fill="#f28de8" stroke="#ef6ff0" stroke-width="0.6"/>
<circle cx="335.9" cy="566.5" r="2.84" fill="#f28de8" stroke="#ef6ff0" stroke-width="0.6"/>
<circle cx="328.0" cy="569.4" r="2.84" fill="#f28de8" stroke="#ef6ff0" stroke-width="0.6"/>
<circle cx="332.1" cy="574.1" r="2.84" fill="#f28de8" stroke="#ef6ff0" stroke-width="0.6"/>
<circle cx="328.0" cy="577.9" r="2.84" fill="#f28de8" stroke="#ef6ff0" stroke-width="0.6"/>
<circle cx="335.0" cy="577.0" r="2.84" fill="#f28de8" stroke="#ef6ff0" stroke-width="0.6"/>
<circle cx="331.2" cy="581.7" r="2.84" fill="#f28de8" stroke="#ef6ff0" stroke-width="0.6"/>
<circle cx="335.9" cy="585.5" r="2.84" fill="#f28de8" stroke="#ef6ff0" stroke-width="0.6"/>
<circle cx="328.0" cy="586.5" r="2.84" fill="#f28de8" stroke="#ef6ff0" stroke-width="0.6"/>
<circle cx="333.1" cy="587.4" r="2.84" fill="#f28de8" stroke="#ef6ff0" stroke-width="0.6"/>
<circle cx="330.2" cy="591.2" r="2.84" fill="#f28de8" stroke="#ef6ff0" stroke-width="0.6"/>
<circle cx="332.1" cy="599.7" r="2.84" fill="#f28de8" stroke="#ef6ff0" stroke-width="0.6"/>
<circle cx="332.1" cy="610.2" r="2.84" fill="#f28de8" stroke="#ef6ff0" stroke-width="0.6"/>
<polyline points="275.6,557.6 275.6,554.7 292.7,554.7 292.7,557.6" fill="none" stroke="#222" stroke-width="1.15"/>
<text x="288.2" y="552.3" font-size="10.4" text-anchor="middle" font-weight="normal" fill="#1c1c1c">0.0014</text>
<polyline points="275.6,534.8 275.6,531.8 331.8,531.8 331.8,534.8" fill="none" stroke="#222" stroke-width="1.15"/>
<text x="306.0" y="527.9" font-size="10.4" text-anchor="middle" font-weight="normal" fill="#1c1c1c">&lt;0.0001</text>
<polyline points="314.1,551.3 314.1,548.1 330.6,548.1 330.6,551.3" fill="none" stroke="#222" stroke-width="1.15"/>
<text x="333.7" y="544.1" font-size="10.4" text-anchor="middle" font-weight="normal" fill="#1c1c1c">&lt;0.0001</text>
</svg></body></html>
